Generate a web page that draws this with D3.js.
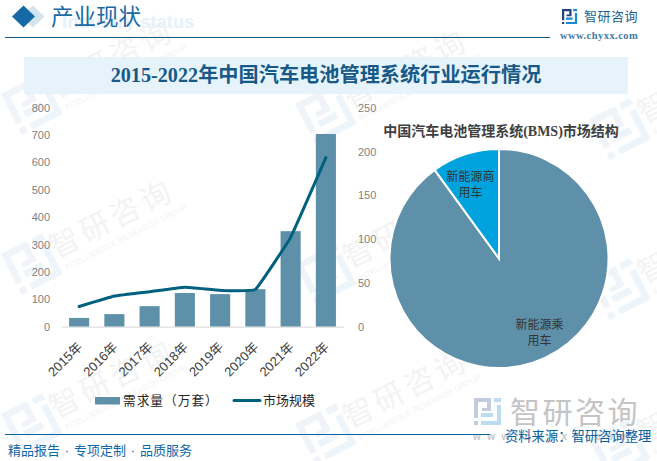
<!DOCTYPE html>
<html>
<head>
<meta charset="utf-8">
<script src="https://cdn.jsdelivr.net/npm/d3@7"></script>
<style>
  html, body { margin: 0; padding: 0; background: #fff; }
  svg { display: block; }
  text { font-family: "Liberation Sans", "Noto Sans CJK SC", sans-serif; }
  .serif { font-family: "Liberation Serif", "Noto Sans CJK SC", serif; }
</style>
</head>
<body>
<script>
const years = ["2015年", "2016年", "2017年", "2018年", "2019年", "2020年", "2021年", "2022年"];
const demand = [32, 46, 75, 123, 119, 137, 349, 704];
const marketSize = [23, 35, 40, 45, 41.5, 42.6, 102, 193];
const demandTicks = [0, 100, 200, 300, 400, 500, 600, 700, 800];
const sizeTicks = [0, 50, 100, 150, 200, 250];
const pieNames = ["新能源乘用车", "新能源商用车"];
const pieShares = [90, 10];

const width = 657;
const height = 461;

const svg = d3
  .select("body")
  .append("svg")
  .attr("width", width)
  .attr("height", height);

drawWatermarks();
drawHeader();
drawFooter();
drawCombo();
drawPie();

// stylised company mark, box is 27 x 27 before scaling
function drawLogo(parent, x, y, k, colorA, colorB) {
  const g = parent
    .append("g")
    .attr("transform", `translate(${x},${y}) scale(${k})`);
  g.append("path")
    .attr("fill", colorA)
    .attr(
      "d",
      "M0 0H17V13H8V10H13V4H4V20H0Z M0 23H4V27H0Z"
    );
  g.append("path")
    .attr("fill", colorB)
    .attr(
      "d",
      "M20 0H27V4H20Z M23 7H27V27H7V23H23Z M7 15H19V19H7Z"
    );
  return g;
}

function drawWatermarks() {
  const layer = svg.append("g").attr("class", "watermarks");
  [
    [63, 82], [63, 242], [63, 402],
    [357, 92], [357, 252], [357, 412],
    [651, 107], [651, 267], [651, 427]
  ].forEach(([x, y]) => {
    const g = layer.append("g").attr("transform", `translate(${x},${y})`);
    drawLogo(g, 0, 0, 1.6, "#f0f3f8", "#edf5fa").attr(
      "transform",
      "translate(-62,12) rotate(-27) scale(1.7)"
    );
    const t = g.append("g").attr("transform", "rotate(-27)");
    t.append("text")
      .attr("x", -14)
      .attr("y", 12)
      .attr("font-size", 30)
      .attr("letter-spacing", 4)
      .attr("fill", "#f3f3f3")
      .text("智研咨询");
    t.append("text")
      .attr("x", -10)
      .attr("y", 27)
      .attr("font-size", 8)
      .attr("fill", "#f3f3f3")
      .text("INTELLIGENCE RESEARCH GROUP");
  });
}

function drawHeader() {
  svg
    .append("path")
    .attr("d", "M33 5.5L44.5 16.5L33 27.5L21.5 16.5Z")
    .attr("fill", "#d4e4ef");
  svg
    .append("path")
    .attr("d", "M23.5 5.5L35 16.5L23.5 27.5L12 16.5Z")
    .attr("fill", "#1569a5");

  svg
    .append("text")
    .attr("x", 62)
    .attr("y", 27.5)
    .attr("font-size", 18.5)
    .attr("font-weight", "bold")
    .attr("fill", "#e6f2fa")
    .text("Industry status");
  svg
    .append("text")
    .attr("class", "serif")
    .attr("x", 51)
    .attr("y", 24.5)
    .attr("font-size", 22.5)
    .attr("fill", "#1a6aa5")
    .text("产业现状");

  svg
    .append("line")
    .attr("x1", 5)
    .attr("x2", 550)
    .attr("y1", 37.5)
    .attr("y2", 37.5)
    .attr("stroke", "#125a87")
    .attr("stroke-width", 1);

  drawLogo(svg, 562, 9, 0.56, "#24407f", "#1e8ad0");
  svg
    .append("text")
    .attr("x", 584)
    .attr("y", 21)
    .attr("font-size", 13)
    .attr("letter-spacing", 0.5)
    .attr("fill", "#1d5f8f")
    .text("智研咨询");
  svg
    .append("text")
    .attr("class", "serif")
    .attr("x", 560)
    .attr("y", 39)
    .attr("font-size", 10.5)
    .attr("font-weight", "bold")
    .attr("letter-spacing", 0.45)
    .attr("fill", "#3f7ba6")
    .text("www.chyxx.com");

  svg
    .append("rect")
    .attr("x", 24)
    .attr("y", 57)
    .attr("width", 604)
    .attr("height", 37)
    .attr("fill", "#e6f3fb");
  svg
    .append("text")
    .attr("class", "serif")
    .attr("x", 326)
    .attr("y", 82)
    .attr("text-anchor", "middle")
    .attr("font-size", 20.2)
    .attr("font-weight", "bold")
    .attr("fill", "#175a87")
    .text("2015-2022年中国汽车电池管理系统行业运行情况");
}

function drawFooter() {
  drawLogo(svg, 474, 398, 1, "#c3cde0", "#bcdcf0");
  svg
    .append("text")
    .attr("x", 510)
    .attr("y", 423)
    .attr("font-size", 30)
    .attr("letter-spacing", 2.5)
    .attr("fill", "#c4c4c4")
    .text("智研咨询");
  svg
    .append("text")
    .attr("x", 473)
    .attr("y", 440)
    .attr("font-size", 10)
    .attr("font-weight", "bold")
    .attr("letter-spacing", 6.5)
    .attr("fill", "#c8c8c8")
    .text("www.chyxx.com");

  svg
    .append("line")
    .attr("x1", 5)
    .attr("x2", 490)
    .attr("y1", 434.5)
    .attr("y2", 434.5)
    .attr("stroke", "#0a64a0")
    .attr("stroke-width", 1);
  svg
    .append("text")
    .attr("x", 8)
    .attr("y", 455)
    .attr("font-size", 13)
    .attr("word-spacing", 1.2)
    .attr("fill", "#0f68a8")
    .text("精品报告 · 专项定制 · 品质服务");
  svg
    .append("text")
    .attr("x", 505)
    .attr("y", 441)
    .attr("font-size", 13.3)
    .attr("fill", "#0a5f9e")
    .text("资料来源：智研咨询整理");
}

function drawCombo() {
  const x = d3
    .scaleBand()
    .domain(years)
    .range([61.5, 343.5])
    .paddingInner(0.43)
    .paddingOuter(0.215);
  const yLeft = d3.scaleLinear().domain([0, 800]).range([326.7, 107.7]);
  const yRight = d3.scaleLinear().domain([0, 250]).range([326.7, 107.7]);

  svg
    .append("g")
    .selectAll("rect")
    .data(demand)
    .join("rect")
    .attr("x", (d, i) => x(years[i]))
    .attr("y", d => yLeft(d))
    .attr("width", x.bandwidth())
    .attr("height", d => yLeft(0) - yLeft(d))
    .attr("fill", "#5e91a9");

  const xAxis = svg
    .append("g")
    .attr("transform", "translate(0,326.7)")
    .call(d3.axisBottom(x).tickSize(0).tickSizeOuter(0));
  xAxis.select(".domain").attr("stroke", "#d9d9d9");
  xAxis
    .selectAll("text")
    .attr("font-size", 13)
    .attr("fill", "#404040")
    .attr("text-anchor", "end")
    .attr("dy", null)
    .attr("y", 0)
    .attr("x", 0)
    .attr("transform", "translate(4,21) rotate(-45)");

  [
    { scale: d3.axisLeft(yLeft).tickValues(demandTicks), at: 53 },
    { scale: d3.axisRight(yRight).tickValues(sizeTicks), at: 355 }
  ].forEach(({ scale, at }) => {
    const axis = svg
      .append("g")
      .attr("transform", `translate(${at},0)`)
      .call(scale.tickSize(0).tickPadding(3));
    axis.select(".domain").remove();
    axis.selectAll("text").attr("font-size", 11).attr("fill", "#7f7f7f");
  });

  const line = d3
    .line()
    .x((d, i) => x(years[i]) + x.bandwidth() / 2)
    .y(d => yRight(d))
    .curve(d3.curveCardinal.tension(0.75));
  svg
    .append("path")
    .datum(marketSize)
    .attr("d", line)
    .attr("fill", "none")
    .attr("stroke", "#00607f")
    .attr("stroke-width", 3)
    .attr("stroke-linecap", "round");

  // legend
  svg
    .append("rect")
    .attr("x", 95)
    .attr("y", 397)
    .attr("width", 25)
    .attr("height", 7.5)
    .attr("fill", "#5e91a9");
  svg
    .append("text")
    .attr("x", 123)
    .attr("y", 405)
    .attr("font-size", 12.7)
    .attr("letter-spacing", 1)
    .attr("fill", "#262626")
    .text("需求量（万套）");
  svg
    .append("line")
    .attr("x1", 234)
    .attr("x2", 260)
    .attr("y1", 400.5)
    .attr("y2", 400.5)
    .attr("stroke", "#00607f")
    .attr("stroke-width", 3)
    .attr("stroke-linecap", "round");
  svg
    .append("text")
    .attr("x", 263)
    .attr("y", 405)
    .attr("font-size", 13)
    .attr("fill", "#262626")
    .text("市场规模");
}

function drawPie() {
  const cx = 499;
  const cy = 258.5;
  const r = 109.5;
  const arcs = d3.pie().sort(null)(pieShares);
  const arc = d3.arc().innerRadius(0).outerRadius(r);
  const pieColor = d3.scaleOrdinal().domain(pieNames).range(["#5e91a9", "#00a3dd"]);

  svg
    .append("text")
    .attr("class", "serif")
    .attr("x", 501)
    .attr("y", 136)
    .attr("text-anchor", "middle")
    .attr("font-size", 14)
    .attr("font-weight", "bold")
    .attr("fill", "#404040")
    .text("中国汽车电池管理系统(BMS)市场结构");

  const pie = svg.append("g").attr("transform", `translate(${cx},${cy})`);
  pie
    .selectAll("path")
    .data(arcs)
    .join("path")
    .attr("d", arc)
    .attr("fill", (d, i) => pieColor(pieNames[i]))
    .attr("stroke", "#fff")
    .attr("stroke-width", 2);

  // labels wrap after four characters, as in the source
  const labelAt = [
    [40.5, 70.5],
    [-28.5, -77.5]
  ];
  pieNames.forEach((name, i) => {
    const label = pie
      .append("text")
      .attr("text-anchor", "middle")
      .attr("font-size", 12)
      .attr("fill", "#333");
    [name.slice(0, 4), name.slice(4)].forEach((part, j) => {
      label
        .append("tspan")
        .attr("x", labelAt[i][0])
        .attr("y", labelAt[i][1] + j * 15.7)
        .text(part);
    });
  });
}
</script>
</body>
</html>
